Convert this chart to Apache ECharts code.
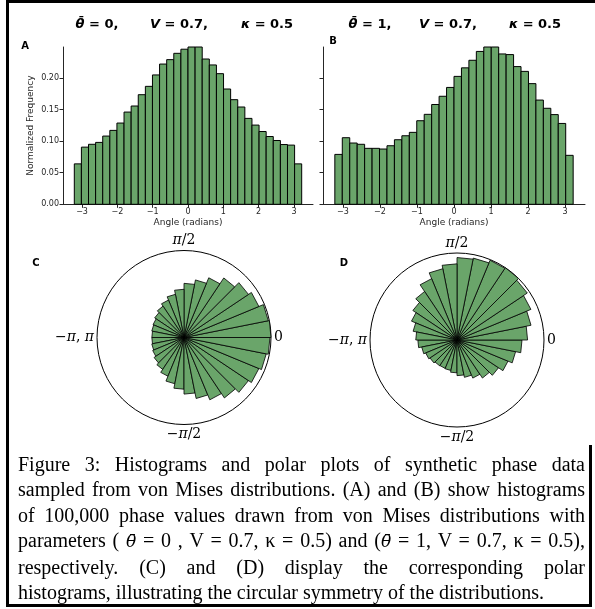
<!DOCTYPE html>
<html>
<head>
<meta charset="utf-8">
<script src="https://cdn.jsdelivr.net/npm/echarts@6/dist/echarts.min.js"></script>
<style>
  html, body { margin: 0; padding: 0; background: #fff; }
  #wrap { position: relative; width: 595px; height: 609px; overflow: hidden; }
  #chart { position: absolute; left: 0; top: 0; width: 595px; height: 609px; }
  .rule { position: absolute; background: #000; }
  #caption {
    position: absolute; left: 18px; top: 452px; width: 567px;
    font-family: 'Liberation Serif', serif; font-size: 20px; line-height: 25.4px; color: #000;
  }
  #caption div { text-align: justify; text-align-last: justify; white-space: nowrap; }
  #caption div.last { text-align-last: left; }
  .m { font-family: 'DejaVu Serif', serif; font-style: italic; font-size: 17px; }
</style>
</head>
<body>
<div id="wrap">
  <div id="chart"></div>
  <div class="rule" style="left:6px;top:0;width:589px;height:3px"></div>
  <div class="rule" style="left:6px;top:0;width:3px;height:607px"></div>
  <div class="rule" style="left:6px;top:604px;width:586px;height:3px"></div>
  <div class="rule" style="left:589px;top:445px;width:3px;height:162px"></div>
  <div id="caption">
    <div>Figure 3: Histograms and polar plots of synthetic phase data</div>
    <div>sampled from von Mises distributions. (A) and (B) show histograms</div>
    <div>of 100,000 phase values drawn from von Mises distributions with</div>
    <div>parameters ( <span class="m">θ̄</span> = 0 , V = 0.7, κ = 0.5) and (<span class="m">θ̄</span> = 1, V = 0.7, κ = 0.5),</div>
    <div>respectively. (C) and (D) display the corresponding polar</div>
    <div class="last">histograms, illustrating the circular symmetry of the distributions.</div>
  </div>
</div>
<script>
// histogram bins (linear panels)
const HIST_LO = -3.22
const HIST_HI = 3.22
const histA = [0.064, 0.0905, 0.095, 0.098, 0.108, 0.117, 0.1286, 0.146, 0.1556, 0.1735, 0.1867, 0.2048,
  0.222, 0.229, 0.239, 0.2455, 0.249, 0.249, 0.230, 0.2206, 0.2068, 0.1825, 0.1656, 0.154,
  0.136, 0.1254, 0.1152, 0.1073, 0.101, 0.0946, 0.0937, 0.064]
const histB = [0.079, 0.1054, 0.097, 0.095, 0.0886, 0.0886, 0.0875, 0.0927, 0.1022, 0.1085, 0.1139, 0.1323,
  0.1424, 0.158, 0.171, 0.185, 0.2025, 0.216, 0.228, 0.242, 0.249, 0.249, 0.238, 0.237,
  0.218, 0.2104, 0.191, 0.165, 0.152, 0.142, 0.128, 0.0775]

// polar bins, from -180 deg, 32 bins
const polarC = [0.092, 0.094, 0.097, 0.103, 0.110, 0.120, 0.135, 0.148, 0.162, 0.178, 0.193, 0.208,
  0.222, 0.232, 0.240, 0.246, 0.249, 0.246, 0.232, 0.222, 0.205, 0.185, 0.168, 0.155,
  0.138, 0.126, 0.116, 0.108, 0.101, 0.096, 0.094, 0.092]
const polarD = [0.112, 0.103, 0.097, 0.093, 0.089, 0.088, 0.089, 0.094, 0.102, 0.109, 0.118, 0.131,
  0.143, 0.158, 0.171, 0.186, 0.202, 0.216, 0.229, 0.242, 0.249, 0.247, 0.239, 0.236,
  0.218, 0.208, 0.190, 0.167, 0.152, 0.141, 0.128, 0.118]

const xTicks = [-3, -2, -1, 0, 1, 2, 3]
const yTicks = [0, 0.05, 0.10, 0.15, 0.20]
const polarTickValues = [-180, -90, 0, 90, 180]
const polarTickLabels = ['−{i|π}, {i|π}', '−{i|π}/2', '0', '{i|π}/2', '']

const GREEN = '#6aa56a'
const Y_MAX = 0.249

function histData(vals) {
  const w = (HIST_HI - HIST_LO) / vals.length
  return vals.map((v, i) => [HIST_LO + i * w, HIST_LO + (i + 1) * w, v])
}
function polarData(vals) {
  const w = 360 / vals.length
  return vals.map((v, i) => [v, -180 + i * w, -180 + (i + 1) * w])
}

function renderRect(params, api) {
  const p0 = api.coord([api.value(0), api.value(2)])
  const p1 = api.coord([api.value(1), 0])
  return {
    type: 'rect',
    shape: {x: p0[0], y: p0[1], width: p1[0] - p0[0], height: p1[1] - p0[1]},
    style: {fill: GREEN, stroke: '#000', lineWidth: 1}
  }
}
function renderWedge(params, api) {
  const r = api.value(0)
  const c = api.coord([0, api.value(1)])
  const p0 = api.coord([r, api.value(1)])
  const p1 = api.coord([r, api.value(2)])
  return {
    type: 'polygon',
    shape: {points: [c, p0, p1]},
    style: {fill: GREEN, stroke: '#000', lineWidth: 0.8}
  }
}

const axisFont = {fontFamily: 'DejaVu Sans', fontSize: 8, color: '#262626'}

function xAxisOpt(gridIndex) {
  return {
    gridIndex: gridIndex, type: 'value', min: -3.54, max: 3.54,
    name: 'Angle (radians)', nameLocation: 'middle', nameGap: 14,
    nameTextStyle: {fontFamily: 'DejaVu Sans', fontSize: 9, color: '#262626'},
    axisLine: {onZero: false, lineStyle: {color: '#262626', width: 1}},
    axisTick: {customValues: xTicks, length: 3.5, lineStyle: {color: '#262626'}},
    axisLabel: Object.assign({customValues: xTicks, margin: 4,
      formatter: v => String(v).replace('-', '−')}, axisFont),
    splitLine: {show: false}
  }
}
function yAxisOpt(gridIndex, withLabels) {
  return {
    gridIndex: gridIndex, type: 'value', min: 0, max: Y_MAX,
    name: withLabels ? 'Normalized Frequency' : '', nameLocation: 'middle', nameGap: 28,
    nameTextStyle: {fontFamily: 'DejaVu Sans', fontSize: 9, color: '#262626'},
    axisLine: {show: true, onZero: false, lineStyle: {color: '#262626', width: 1}},
    axisTick: {show: true, customValues: yTicks, length: 3.5, lineStyle: {color: '#262626'}},
    axisLabel: Object.assign({show: withLabels, customValues: yTicks, margin: 4,
      formatter: v => v.toFixed(2)}, axisFont),
    splitLine: {show: false}
  }
}
function angleAxisOpt(polarIndex) {
  return {
    polarIndex: polarIndex, type: 'value', min: -180, max: 180, interval: 90,
    startAngle: 180, clockwise: false,
    axisLine: {lineStyle: {color: '#000', width: 1}},
    axisTick: {show: false},
    splitLine: {show: false},
    axisLabel: {
      margin: 3, fontFamily: 'DejaVu Serif', fontSize: 14, color: '#000',
      formatter: v => polarTickLabels[polarTickValues.indexOf(v)] || '',
      rich: {i: {fontFamily: 'DejaVu Serif', fontStyle: 'italic', fontSize: 14, color: '#000'}}
    }
  }
}

function titleTexts(parts) {
  return parts.map(p => ({
    type: 'text', x: p[1], y: 25,
    style: {
      text: p[0], textAlign: 'center', textVerticalAlign: 'middle',
      font: 'bold 13px "DejaVu Sans"', fill: '#000',
      rich: {i: {fontFamily: 'DejaVu Sans', fontWeight: 'bold', fontStyle: 'italic', fontSize: 13}}
    }
  }))
}
function panelLabel(txt, x, y) {
  return {type: 'text', x: x, y: y,
    style: {text: txt, textAlign: 'center', textVerticalAlign: 'middle', font: 'bold 10px "DejaVu Sans"', fill: '#000'}}
}

const chart = echarts.init(document.getElementById('chart'), null, {renderer: 'canvas'})
chart.setOption({
  animation: false,
  grid: [
    {left: 63, top: 47, width: 250, height: 157.3},
    {left: 323, top: 47, width: 262, height: 157.3}
  ],
  xAxis: [xAxisOpt(0), xAxisOpt(1)],
  yAxis: [yAxisOpt(0, true), yAxisOpt(1, false)],
  polar: [
    {center: [184, 337.5], radius: 87},
    {center: [457, 340], radius: 87}
  ],
  angleAxis: [angleAxisOpt(0), angleAxisOpt(1)],
  radiusAxis: [
    {polarIndex: 0, type: 'value', min: 0, max: Y_MAX, show: false},
    {polarIndex: 1, type: 'value', min: 0, max: Y_MAX, show: false}
  ],
  series: [
    {type: 'custom', xAxisIndex: 0, yAxisIndex: 0, renderItem: renderRect,
      encode: {x: [0, 1], y: 2}, data: histData(histA)},
    {type: 'custom', xAxisIndex: 1, yAxisIndex: 1, renderItem: renderRect,
      encode: {x: [0, 1], y: 2}, data: histData(histB)},
    {type: 'custom', coordinateSystem: 'polar', polarIndex: 0, renderItem: renderWedge,
      encode: {radius: 0, angle: [1, 2]}, data: polarData(polarC)},
    {type: 'custom', coordinateSystem: 'polar', polarIndex: 1, renderItem: renderWedge,
      encode: {radius: 0, angle: [1, 2]}, data: polarData(polarD)}
  ],
  graphic: [].concat(
    titleTexts([['{i|θ̄} = 0,', 97], ['{i|V} = 0.7,', 179], ['{i|κ} = 0.5', 267]]),
    titleTexts([['{i|θ̄} = 1,', 370], ['{i|V} = 0.7,', 448], ['{i|κ} = 0.5', 535]]),
    [panelLabel('A', 25, 46), panelLabel('B', 333, 41), panelLabel('C', 36, 263), panelLabel('D', 344, 263)]
  )
})
</script>
</body>
</html>
